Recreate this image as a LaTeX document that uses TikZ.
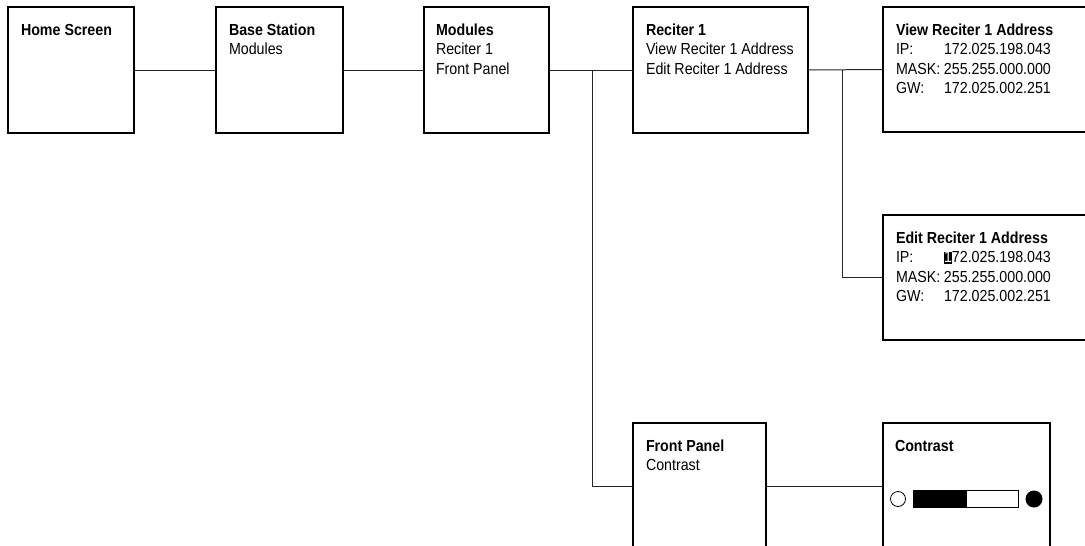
\documentclass[tikz,border=0pt]{standalone}
\usepackage{fontspec}
\setmainfont[FakeStretch=0.89]{Liberation Sans}
\usetikzlibrary{calc}
\newcommand{\scrtext}[1]{\vtop{#1}}
\newcommand{\sline}[1]{\hbox{\strut #1}}
\newcommand{\stitle}[1]{\hbox{\strut\bfseries #1}}
\newcommand{\tabf}[2]{\hbox{\strut\makebox[48pt][l]{#1}#2}}
\newcommand{\inv}[1]{{\setlength{\fboxsep}{0pt}\colorbox{black}{\rule[-1.4pt]{0pt}{11.8pt}\textcolor{white}{#1}}}}
\tikzset{
  screen/.style={draw=black, line width=1.8pt, rectangle, anchor=north west,
    inner sep=0pt, outer sep=0pt},
  stext/.style={anchor=base west, inner sep=0pt, outer sep=0pt, align=left,
    font=\fontsize{16}{19.3}\selectfont},
  link/.style={draw=black!85, line width=1pt},
}
\begin{document}
\begin{tikzpicture}[x=1pt,y=-1pt]
\useasboundingbox (0,0) rectangle (1085,546);
\clip (0,0) rectangle (1085,546);
\fill[white] (0,0) rectangle (1085,546);

% screens
\node[screen, minimum width=126pt, minimum height=126pt] (home) at (8,7) {};
\node[screen, minimum width=127pt, minimum height=126pt] (base) at (216,7) {};
\node[screen, minimum width=125pt, minimum height=126pt] (mod)  at (424,7) {};
\node[screen, minimum width=175pt, minimum height=126pt] (rec)  at (633,7) {};
\node[screen, minimum width=250pt, minimum height=125pt] (view) at (883,7) {};
\node[screen, minimum width=250pt, minimum height=125pt] (edit) at (883,215) {};
\node[screen, minimum width=133pt, minimum height=126pt] (fp)   at (633,423) {};
\node[screen, minimum width=167pt, minimum height=126pt] (con)  at (883,423) {};

% texts
\node[stext] (homeT) at ($(home.north west)+(13,28.5)$) {\scrtext{\stitle{Home Screen}}};
\node[stext] (baseT) at ($(base.north west)+(13,28.5)$) {\scrtext{\stitle{Base Station}\sline{Modules}}};
\node[stext] (modT)  at ($(mod.north west)+(12,28.5)$) {\scrtext{\stitle{Modules}\sline{Reciter 1}\sline{Front Panel}}};
\node[stext] (recT)  at ($(rec.north west)+(13,28.5)$) {\scrtext{\stitle{Reciter 1}\sline{View Reciter 1 Address}\sline{Edit Reciter 1 Address}}};
\node[stext] (viewT) at ($(view.north west)+(13,28.5)$) {\scrtext{\stitle{View Reciter 1 Address}\tabf{IP:}{172.025.198.043}\tabf{MASK:}{255.255.000.000}\tabf{GW:}{172.025.002.251}}};
\node[stext] (editT) at ($(edit.north west)+(13,28.5)$) {\scrtext{\stitle{Edit Reciter 1 Address}\tabf{IP:}{\inv{1}72.025.198.043}\tabf{MASK:}{255.255.000.000}\tabf{GW:}{172.025.002.251}}};
\node[stext] (fpT)   at ($(fp.north west)+(13,28.5)$) {\scrtext{\stitle{Front Panel}\sline{Contrast}}};
\node[stext] (conT)  at ($(con.north west)+(12,28.5)$) {\scrtext{\stitle{Contrast}}};

% contrast slider
\coordinate (c0) at (con.north west);
\draw[line width=0.8pt, fill=white] ($(c0)+(15,76)$) circle (7.5);
\draw[line width=0.8pt, fill=white] ($(c0)+(30,67)$) rectangle ($(c0)+(135,84)$);
\fill[black] ($(c0)+(30,67)$) rectangle ($(c0)+(84,84)$);
\fill[black] ($(c0)+(151,76)$) circle (8.5);

% connectors
\coordinate (br1) at (592,70);
\coordinate (br2) at (842,70);
\draw[link] (home.east) -- (base.west);
\draw[link] (base.east) -- (mod.west);
\draw[link] (mod.east) -- (rec.west);
\draw[link] (rec.east) -- (view.west);
\draw[link] (br1) |- (fp.west);
\draw[link] (br2) |- (edit.west);
\draw[link] (fp.east) -- (con.west);
\end{tikzpicture}
\end{document}
